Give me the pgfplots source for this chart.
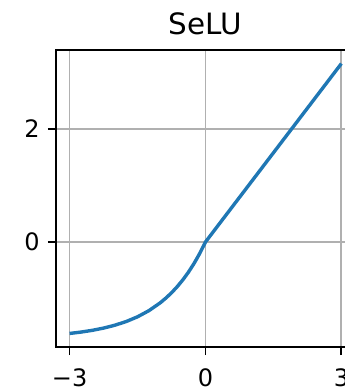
\documentclass[border=0pt]{standalone}
\usepackage{fontspec}
\setmainfont{DejaVu Sans}
\usepackage{pgfplots}
\pgfplotsset{compat=1.18}
\definecolor{mplblue}{HTML}{1F77B4}
\definecolor{gridgray}{HTML}{B0B0B0}
\begin{document}
\begin{tikzpicture}
\begin{axis}[
  scale only axis,
  width=149.5pt, height=148.5pt,
  xmin=-3.3, xmax=3.3,
  ymin=-1.86, ymax=3.40,
  xtick={-3,0,3},
  xticklabels={−3,0,3},
  ytick={0,2},
  yticklabels={0,2},
  tick align=outside,
  tick pos=left,
  major tick length=4pt,
  every tick/.style={black, line width=0.9pt},
  axis line style={line width=0.9pt},
  grid=major,
  major grid style={gridgray, line width=0.9pt},
  tick label style={font=\fontsize{12}{14}\selectfont},
  xticklabel style={inner sep=0pt, yshift=-6.5pt},
  yticklabel style={inner sep=0pt, xshift=-4pt},
  title={SeLU},
  every axis title shift=0pt,
  title style={font=\fontsize{14.7}{17}\selectfont, at={(0.5,1)}, anchor=south, inner sep=0pt, yshift=7.5pt},
]
\addplot[mplblue, line width=1.7pt] coordinates {
  (-3.000,-1.620) (-2.750,-1.596) (-2.500,-1.565) (-2.250,-1.525)
  (-2.000,-1.474) (-1.750,-1.409) (-1.500,-1.325) (-1.250,-1.217)
  (-1.000,-1.078) (-0.875,-0.994) (-0.750,-0.900) (-0.625,-0.792)
  (-0.500,-0.671) (-0.375,-0.533) (-0.250,-0.377) (-0.125,-0.200)
  (0.000,0.000) (1.500,1.580) (3.000,3.160)
};
\end{axis}
\pgfresetboundingbox
\path[use as bounding box]
  ([xshift=-28pt,yshift=-22pt]current axis.south west)
  rectangle ([xshift=144pt,yshift=173.5pt]current axis.south west);
\end{tikzpicture}
\end{document}
